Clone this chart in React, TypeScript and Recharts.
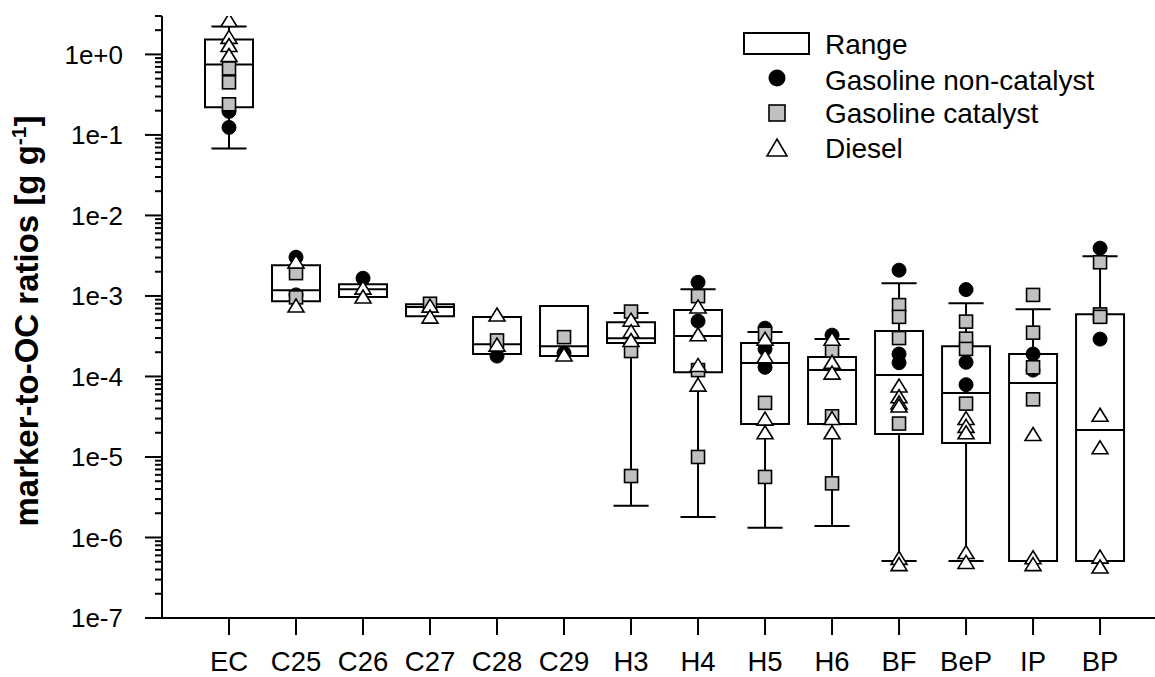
import React from 'react';
import { ComposedChart, XAxis, YAxis, Scatter, ReferenceArea, ReferenceLine, Legend } from 'recharts';

const categories = ['EC', 'C25', 'C26', 'C27', 'C28', 'C29', 'H3', 'H4', 'H5', 'H6', 'BF', 'BeP', 'IP', 'BP'];

const boxLow = [0.22, 8.6e-4, 9.7e-4, 5.6e-4, 1.9e-4, 1.8e-4, 2.6e-4, 1.13e-4, 2.57e-5, 2.57e-5, 1.93e-5, 1.49e-5, 5.1e-7, 5.1e-7];
const boxMedian = [0.75, 1.18e-3, 1.21e-3, 7.3e-4, 2.52e-4, 2.38e-4, 2.99e-4, 3.17e-4, 1.47e-4, 1.2e-4, 1.04e-4, 6.22e-5, 8.3e-5, 2.16e-5];
const boxHigh = [1.53, 2.41e-3, 1.4e-3, 7.9e-4, 5.46e-4, 7.5e-4, 4.73e-4, 6.67e-4, 2.6e-4, 1.74e-4, 3.66e-4, 2.38e-4, 1.9e-4, 5.94e-4];
const whiskerLow = [0.068, 8.6e-4, 9.7e-4, 5.6e-4, 1.9e-4, 1.8e-4, 2.47e-6, 1.8e-6, 1.32e-6, 1.39e-6, 5.1e-7, 5.1e-7, 5.1e-7, 5.1e-7];
const whiskerHigh = [2.22, 2.41e-3, 1.4e-3, 7.9e-4, 5.46e-4, 7.5e-4, 6.12e-4, 1.21e-3, 3.56e-4, 2.91e-4, 1.44e-3, 8.14e-4, 6.86e-4, 3.12e-3];

const gasolineNonCatalyst: number[][] = [
  [0.124, 0.196],
  [3.03e-3, 1.03e-3],
  [1.66e-3],
  [],
  [1.79e-4],
  [1.95e-4],
  [],
  [1.48e-3, 4.87e-4],
  [3.98e-4, 2.2e-4, 1.3e-4],
  [3.26e-4],
  [2.09e-3, 1.9e-4, 1.48e-4],
  [1.2e-3, 1.5e-4, 7.9e-5],
  [1.9e-4, 1.2e-4],
  [3.92e-3, 2.91e-4],
];

const gasolineCatalyst: number[][] = [
  [0.67, 0.45, 0.24],
  [1.92e-3, 9.6e-4],
  [],
  [8.0e-4],
  [2.8e-4],
  [3.08e-4],
  [6.4e-4, 2.07e-4, 5.8e-6],
  [9.95e-4, 1.2e-4, 1.0e-5],
  [3.4e-4, 4.7e-5, 5.65e-6],
  [2.1e-4, 3.2e-5, 4.7e-6],
  [7.7e-4, 5.5e-4, 3.0e-4, 2.6e-5],
  [4.8e-4, 2.95e-4, 2.2e-4, 4.6e-5],
  [1.03e-3, 3.5e-4, 1.3e-4, 5.2e-5],
  [2.62e-3, 5.9e-4, 5.5e-4],
];

const diesel: number[][] = [
  [2.64, 1.63, 1.29, 0.97],
  [2.63e-3, 7.5e-4],
  [1.25e-3, 9.7e-4],
  [7.47e-4, 5.46e-4],
  [5.8e-4, 2.45e-4],
  [1.85e-4],
  [5.0e-4, 3.6e-4, 2.8e-4],
  [7.3e-4, 3.3e-4, 1.37e-4, 7.8e-5],
  [2.9e-4, 1.75e-4, 2.95e-5, 2.0e-5],
  [2.9e-4, 1.5e-4, 1.1e-4, 3.0e-5, 2.0e-5],
  [7.6e-5, 5.6e-5, 4.7e-5, 4.3e-5, 5.5e-7, 4.6e-7],
  [3.0e-5, 2.4e-5, 2.0e-5, 6.5e-7, 4.9e-7],
  [1.9e-5, 5.6e-7, 4.6e-7],
  [3.3e-5, 1.3e-5, 5.7e-7, 4.3e-7],
];

const yMajorTicks = [1e-7, 1e-6, 1e-5, 1e-4, 1e-3, 1e-2, 1e-1, 1e0];
const yTickLabels = ['1e-7', '1e-6', '1e-5', '1e-4', '1e-3', '1e-2', '1e-1', '1e+0'];
const yMinorMultipliers = [2, 3, 4, 5, 6, 7, 8, 9];
const yDomain: [number, number] = [1e-7, 3];
const xDomain: [number, number] = [0, 14.82];

const FONT = '"Liberation Sans", Arial, Helvetica, sans-serif';

const yTicks: number[] = [];
yMajorTicks.forEach((m) => {
  yTicks.push(m);
  yMinorMultipliers.forEach((k) => {
    const v = m * k;
    if (v <= yDomain[1] * 1.0001) yTicks.push(v);
  });
});

const toPoints = (groups: number[][]) =>
  groups.flatMap((vals, i) => vals.map((v) => ({ x: i + 1, y: v })));

const nonCatData = toPoints(gasolineNonCatalyst);
const catData = toPoints(gasolineCatalyst);
const dieselData = toPoints(diesel);

const BOX_HALF = 0.358;
const CAP_HALF = 0.262;

const YTick = (props: any) => {
  const { x, y, payload } = props;
  const v = payload.value;
  const idx = yMajorTicks.findIndex((m) => Math.abs(Math.log10(m) - Math.log10(v)) < 1e-6);
  const major = idx >= 0;
  return (
    <g>
      <line x1={x - (major ? 17 : 7)} x2={x} y1={y} y2={y} stroke="#000" strokeWidth={2} />
      {major && (
        <text x={x - 39} y={y} dy="0.36em" textAnchor="end" fontSize={26} fontFamily={FONT} fill="#000">
          {yTickLabels[idx]}
        </text>
      )}
    </g>
  );
};

const XTick = (props: any) => {
  const { x, y, payload } = props;
  return (
    <text x={x} y={y + 36} textAnchor="middle" fontSize={27.5} fontFamily={FONT} fill="#000">
      {categories[payload.value - 1]}
    </text>
  );
};

const CircleShape = (p: any) => <circle cx={p.cx} cy={p.cy} r={7} fill="#000" stroke="#000" strokeWidth={1} />;
const SquareShape = (p: any) => (
  <rect x={p.cx - 6.5} y={p.cy - 6.5} width={13} height={13} fill="#c0c0c0" stroke="#000" strokeWidth={1.6} />
);
const TriangleShape = (p: any) => (
  <polygon
    points={`${p.cx},${p.cy - 7} ${p.cx + 8},${p.cy + 6} ${p.cx - 8},${p.cy + 6}`}
    fill="#fff"
    stroke="#000"
    strokeWidth={1.6}
    strokeLinejoin="miter"
  />
);

const LegendContent = () => (
  <svg width={455} height={180} style={{ display: 'block' }}>
    <g fontFamily={FONT} fontSize={28} fill="#000">
      <rect x={44} y={33} width={65} height={21} fill="#fff" stroke="#000" strokeWidth={2} />
      <text x={125} y={54}>Range</text>
      <circle cx={77} cy={78} r={8.5} fill="#000" />
      <text x={125} y={90}>Gasoline non-catalyst</text>
      <rect x={69} y={105} width={16} height={16} fill="#c0c0c0" stroke="#000" strokeWidth={1.6} />
      <text x={125} y={123}>Gasoline catalyst</text>
      <polygon points="77,139 87,156 67,156" fill="#fff" stroke="#000" strokeWidth={1.6} />
      <text x={125} y={158}>Diesel</text>
    </g>
  </svg>
);

const YLabel = () => (
  <text
    x={38}
    y={321}
    transform="rotate(-90, 38, 321)"
    textAnchor="middle"
    fontSize={33}
    fontWeight="bold"
    fontFamily={FONT}
    fill="#000"
  >
    marker-to-OC ratios [g g<tspan dy={-12} fontSize={21}>-1</tspan>
    <tspan dy={12}>]</tspan>
  </text>
);

export default function App() {
  const lineStyle = { stroke: '#000', strokeWidth: 2 };
  return (
    <div style={{ position: 'absolute', left: 0, top: 0, width: 1155, height: 677, background: '#fff' }}>
      <ComposedChart
        width={1155}
        height={677}
        margin={{ top: 16, right: 0, bottom: 0, left: 0 }}
        style={{ fontFamily: FONT }}
      >
        <XAxis
          xAxisId="main"
          type="number"
          dataKey="x"
          domain={xDomain}
          allowDataOverflow
          ticks={categories.map((_, i) => i + 1)}
          tick={<XTick />}
          tickSize={17}
          tickMargin={0}
          tickLine={lineStyle}
          axisLine={lineStyle}
          height={59}
          interval={0}
        />
        <XAxis
          xAxisId="top"
          orientation="top"
          type="number"
          domain={xDomain}
          allowDataOverflow
          height={0}
          tick={false}
          tickLine={false}
          axisLine={lineStyle}
        />
        <YAxis
          yAxisId="main"
          type="number"
          dataKey="y"
          scale="log"
          domain={yDomain}
          allowDataOverflow
          ticks={yTicks}
          interval={0}
          tick={<YTick />}
          tickSize={0}
          tickMargin={0}
          tickLine={false}
          axisLine={lineStyle}
          width={162}
          label={{ content: () => <YLabel /> }}
        />
        {categories.map((c, i) => (
          <ReferenceArea
            key={`box-${c}`}
            xAxisId="main"
            yAxisId="main"
            x1={i + 1 - BOX_HALF}
            x2={i + 1 + BOX_HALF}
            y1={boxLow[i]}
            y2={boxHigh[i]}
            fill="none"
            fillOpacity={0}
            stroke="#000"
            strokeWidth={2}
            ifOverflow="visible"
          />
        ))}
        {categories.map((c, i) => (
          <ReferenceLine
            key={`med-${c}`}
            xAxisId="main"
            yAxisId="main"
            segment={[
              { x: i + 1 - BOX_HALF, y: boxMedian[i] },
              { x: i + 1 + BOX_HALF, y: boxMedian[i] },
            ]}
            stroke="#000"
            strokeWidth={2}
            ifOverflow="visible"
          />
        ))}
        {categories.map((c, i) =>
          whiskerHigh[i] > boxHigh[i] ? (
            <ReferenceLine
              key={`wh-${c}`}
              xAxisId="main"
              yAxisId="main"
              segment={[
                { x: i + 1, y: boxHigh[i] },
                { x: i + 1, y: whiskerHigh[i] },
              ]}
              stroke="#000"
              strokeWidth={2}
              ifOverflow="visible"
            />
          ) : null
        )}
        {categories.map((c, i) =>
          whiskerHigh[i] > boxHigh[i] ? (
            <ReferenceLine
              key={`whc-${c}`}
              xAxisId="main"
              yAxisId="main"
              segment={[
                { x: i + 1 - CAP_HALF, y: whiskerHigh[i] },
                { x: i + 1 + CAP_HALF, y: whiskerHigh[i] },
              ]}
              stroke="#000"
              strokeWidth={2}
              ifOverflow="visible"
            />
          ) : null
        )}
        {categories.map((c, i) =>
          whiskerLow[i] < boxLow[i] ? (
            <ReferenceLine
              key={`wl-${c}`}
              xAxisId="main"
              yAxisId="main"
              segment={[
                { x: i + 1, y: whiskerLow[i] },
                { x: i + 1, y: boxLow[i] },
              ]}
              stroke="#000"
              strokeWidth={2}
              ifOverflow="visible"
            />
          ) : null
        )}
        {categories.map((c, i) =>
          whiskerLow[i] < boxLow[i] ? (
            <ReferenceLine
              key={`wlc-${c}`}
              xAxisId="main"
              yAxisId="main"
              segment={[
                { x: i + 1 - CAP_HALF, y: whiskerLow[i] },
                { x: i + 1 + CAP_HALF, y: whiskerLow[i] },
              ]}
              stroke="#000"
              strokeWidth={2}
              ifOverflow="visible"
            />
          ) : null
        )}
        <Scatter
          name="Gasoline non-catalyst"
          data={nonCatData}
          xAxisId="main"
          yAxisId="main"
          dataKey="y"
          shape={<CircleShape />}
          isAnimationActive={false}
        />
        <Scatter
          name="Gasoline catalyst"
          data={catData}
          xAxisId="main"
          yAxisId="main"
          dataKey="y"
          shape={<SquareShape />}
          isAnimationActive={false}
        />
        <Scatter
          name="Diesel"
          data={dieselData}
          xAxisId="main"
          yAxisId="main"
          dataKey="y"
          shape={<TriangleShape />}
          isAnimationActive={false}
        />
        <Legend
          layout="vertical"
          align="center"
          verticalAlign="middle"
          content={() => <LegendContent />}
          wrapperStyle={{ position: 'absolute', left: 700, top: 0, width: 455, height: 180 }}
        />
      </ComposedChart>
    </div>
  );
}
